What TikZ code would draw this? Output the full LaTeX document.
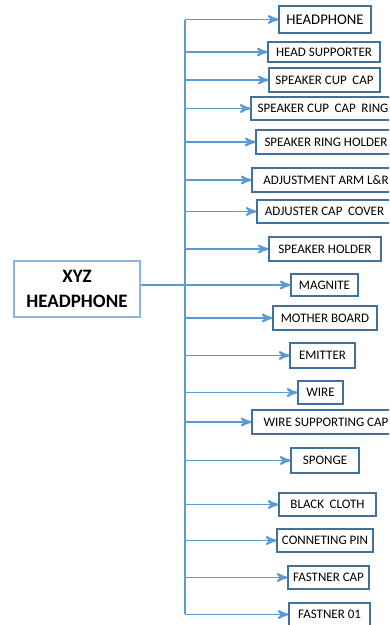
\documentclass[tikz,border=0pt]{standalone}
\usepackage{fontspec}
\setmainfont{Carlito}
\usepackage{tikz}
\usetikzlibrary{arrows, calc, positioning}

\definecolor{linkblue}{HTML}{5B9BD5}
\definecolor{partblue}{HTML}{41719C}
\definecolor{mainblue}{HTML}{8DB4E2}

\tikzset{
    part/.style={draw=partblue, line width=0.7pt, fill=white, inner sep=0pt,
        font=\fontsize{7.4}{8}\selectfont},
    link/.style={draw=linkblue, line width=1.1pt, ->},
}

\begin{document}
\begin{tikzpicture}[>=stealth', x=0.02cm, y=-0.02cm]
        \useasboundingbox (0,0) rectangle (389,625);
        \clip (0,0) rectangle (389,625);

        % Khối chính
        \node[draw=mainblue, line width=0.8pt, minimum width=2.52cm, minimum height=1.12cm,
            align=center, font=\fontsize{10.8}{14}\selectfont\bfseries] (xyz) at (77,289) {XYZ\\HEADPHONE};

        % Các bộ phận
        \node[part, minimum width=1.84cm, minimum height=0.54cm, font=\fontsize{8.4}{9}\selectfont] (headphone) at (325,19.5) {HEADPHONE};
        \node[part, minimum width=2.24cm, minimum height=0.40cm] (supporter) at (324,52) {HEAD SUPPORTER};
        \node[part, minimum width=2.22cm, minimum height=0.48cm] (cupcap) at (324.5,80) {SPEAKER CUP\hspace{1.5pt} CAP};
        \node[part, minimum width=2.88cm, minimum height=0.46cm] (capring) at (323,108.5) {SPEAKER CUP\hspace{1.5pt} CAP\hspace{1.5pt} RING};
        \node[part, minimum width=2.80cm, minimum height=0.48cm] (ringholder) at (326,142) {SPEAKER RING HOLDER};
        \node[part, minimum width=2.96cm, minimum height=0.48cm] (arm) at (326,180) {ADJUSTMENT ARM L\&R};
        \node[part, minimum width=2.70cm, minimum height=0.46cm] (capcover) at (324.5,211.5) {ADJUSTER CAP\hspace{1.5pt} COVER};
        \node[part, minimum width=2.24cm, minimum height=0.48cm] (holder) at (325,249) {SPEAKER HOLDER};
        \node[part, minimum width=1.34cm, minimum height=0.44cm] (magnite) at (324.5,285) {MAGNITE};
        \node[part, minimum width=2.08cm, minimum height=0.48cm] (board) at (325,318) {MOTHER BOARD};
        \node[part, minimum width=1.30cm, minimum height=0.50cm] (emitter) at (322.5,355.5) {EMITTER};
        \node[part, minimum width=0.90cm, minimum height=0.46cm] (wire) at (320.5,392.5) {WIRE};
        \node[part, minimum width=2.96cm, minimum height=0.48cm] (wirecap) at (326,422) {WIRE SUPPORTING CAP};
        \node[part, minimum width=1.36cm, minimum height=0.50cm] (sponge) at (325,460.5) {SPONGE};
        \node[part, minimum width=1.94cm, minimum height=0.46cm] (cloth) at (327.5,504.5) {BLACK\hspace{1.5pt} CLOTH\hspace{6pt}};
        \node[part, minimum width=1.92cm, minimum height=0.46cm] (pin) at (325,540.5) {CONNETING PIN};
        \node[part, minimum width=1.62cm, minimum height=0.46cm] (fcap) at (328.5,577.5) {FASTNER CAP};
        \node[part, minimum width=1.62cm, minimum height=0.46cm] (f01) at (329.5,614.5) {FASTNER 01};

        % Trục dọc
        \coordinate (trunk) at (185,20);
        \coordinate (trunkend) at (185,614);
        \draw[draw=linkblue, line width=1.1pt] (trunk) -- (trunkend);

        % Mũi tên
        \foreach \n in {headphone, supporter, cupcap, capring, ringholder, arm, capcover, holder,
            board, emitter, wire, wirecap, sponge, cloth, pin, fcap, f01}
            \draw[link] (\n.west -| trunk) -- (\n.west);
        \draw[link] (xyz.east |- magnite.west) -- (magnite.west);
    \end{tikzpicture}
\end{document}
